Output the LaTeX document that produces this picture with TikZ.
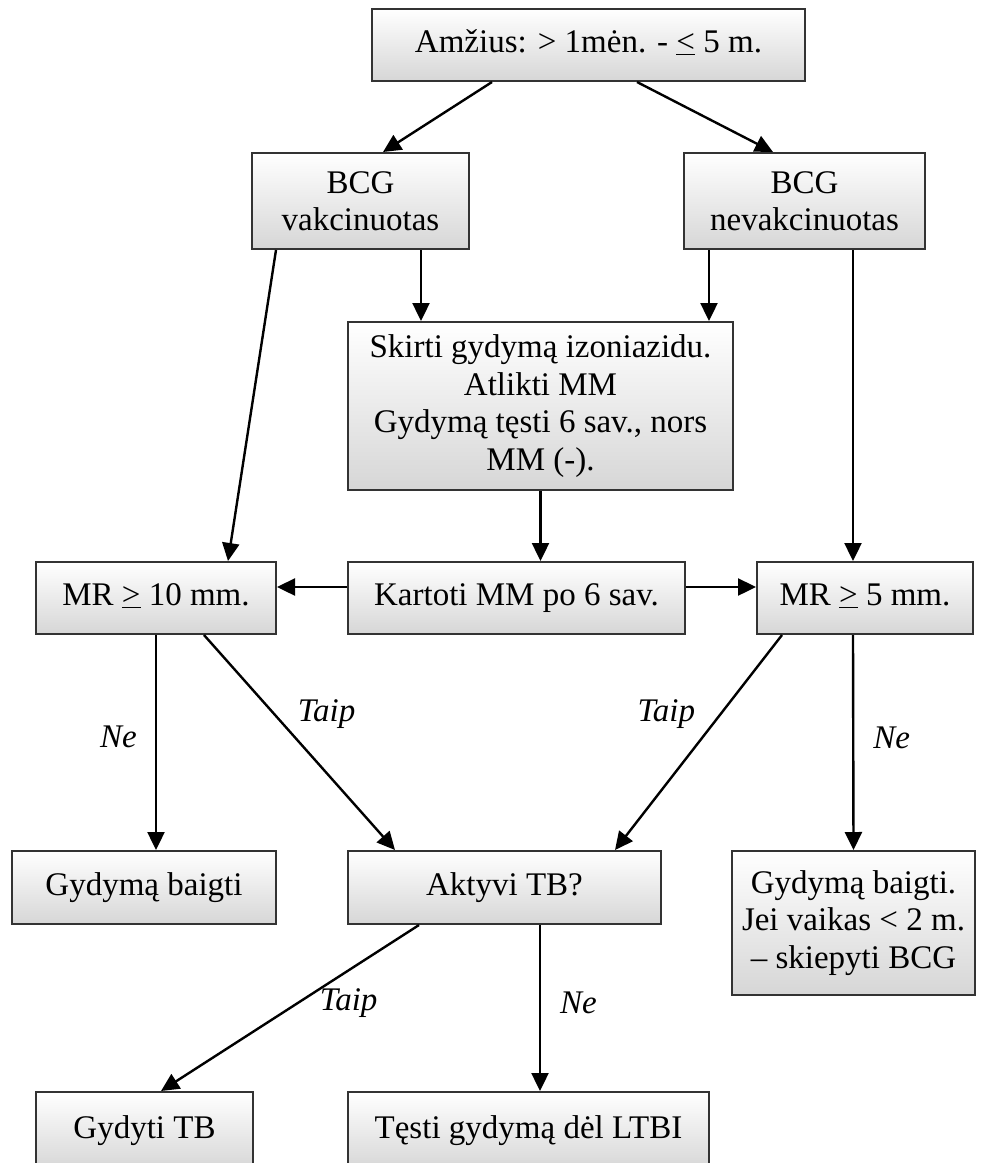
\documentclass[tikz,border=0pt]{standalone}
\usepackage{fontspec}
\setmainfont{Liberation Serif}
\usetikzlibrary{arrows.meta}

% relation signs drawn as an underlined angle bracket
\newcommand{\geqbar}{\underline{>}}
\newcommand{\leqbar}{\underline{<}}

\tikzset{
  box/.style={draw=black!80, line width=2pt, top color=white, bottom color=black!16,
    inner sep=0pt, align=center, font=\fontsize{33}{37.5}\selectfont},
  one/.style={text height=23pt, text depth=8pt},
  arr/.style={line width=2.4pt, -{Triangle[length=18pt,width=17pt]}},
  lab/.style={inner sep=0pt, font=\fontsize{33}{37.5}\selectfont\itshape}
}

\begin{document}
\begin{tikzpicture}[x=1pt, y=-1pt]
\useasboundingbox (0,0) rectangle (990,1163);

% boxes
\node[box, one, minimum width=433pt, minimum height=72pt] (top) at (588.5,45) {Amžius: > 1mėn. - \leqbar{} 5 m.};
\node[box, minimum width=217pt, minimum height=96pt] (vak) at (360.5,201) {BCG\\vakcinuotas};
\node[box, minimum width=241pt, minimum height=96pt] (nev) at (804.5,201) {BCG\\nevakcinuotas};
\node[box, minimum width=385pt, minimum height=168pt] (skirti) at (540.5,406)
  {Skirti gydymą izoniazidu.\\Atlikti MM\\Gydymą tęsti 6 sav., nors\\MM (-).};
\node[box, one, minimum width=240pt, minimum height=72pt] (mr10) at (156,598) {MR \geqbar{} 10 mm.};
\node[box, one, minimum width=337pt, minimum height=72pt] (kartoti) at (516.5,598) {Kartoti MM po 6 sav.};
\node[box, one, minimum width=216pt, minimum height=72pt] (mr5) at (865,598) {MR \geqbar{} 5 mm.};
\node[box, one, minimum width=264pt, minimum height=73pt] (baigti) at (144,887.5) {Gydymą baigti};
\node[box, one, minimum width=313pt, minimum height=73pt] (aktyvi) at (504.5,887.5) {Aktyvi TB?};
\node[box, minimum width=243pt, minimum height=144pt] (baigti2) at (853.5,923)
  {Gydymą baigti.\\Jei vaikas < 2 m.\\– skiepyti BCG};
\node[box, minimum width=217pt, minimum height=78pt, text depth=0pt] (gydyti) at (144.5,1131) {\raisebox{8pt}{Gydyti TB}};
\node[box, minimum width=361pt, minimum height=78pt, text depth=0pt] (testi) at (528.5,1131) {\raisebox{8pt}{Tęsti gydymą dėl LTBI}};

% connectors
\draw[arr] ([xshift=-96.5pt]top.south) -- ([xshift=22.5pt]vak.north);
\draw[arr] ([xshift=48.5pt]top.south) -- ([xshift=-31.5pt]nev.north);
\draw[arr] ([xshift=-84.5pt]vak.south) -- ([xshift=72pt]mr10.north);
\draw[arr] ([xshift=60.5pt]vak.south) -- ([xshift=-119.5pt]skirti.north);
\draw[arr] ([xshift=-95.5pt]nev.south) -- ([xshift=168.5pt]skirti.north);
\draw[arr] ([xshift=48.5pt]nev.south) -- ([xshift=-12pt]mr5.north);
\draw[arr] (skirti.south) -- ([xshift=24pt]kartoti.north);
\draw[arr] ([yshift=11pt]kartoti.west) -- ([yshift=11pt]mr10.east);
\draw[arr] ([yshift=11pt]kartoti.east) -- ([yshift=11pt]mr5.west);

\draw[arr] (mr10.south) -- ([xshift=12pt]baigti.north)
  node[lab, pos=0.475, anchor=east, xshift=-18pt] (l1) {Ne};
\draw[arr] ([xshift=48pt]mr10.south) -- ([xshift=-109.5pt]aktyvi.north)
  node[lab, pos=0.37, anchor=west, xshift=22pt] (l2) {Taip};
\draw[arr] ([xshift=-83pt]mr5.south) -- ([xshift=110.5pt]aktyvi.north)
  node[lab, pos=0.37, anchor=east, xshift=-24pt] (l3) {Taip};
\draw[arr] ([xshift=-12pt]mr5.south) -- (baigti2.north)
  node[lab, pos=0.48, anchor=west, xshift=19pt] (l4) {Ne};
\draw[arr] ([xshift=-85.5pt]aktyvi.south) -- ([xshift=16.5pt]gydyti.north)
  node[lab, pos=0.47, anchor=west, xshift=21pt] (l5) {Taip};
\draw[arr] ([xshift=35.5pt]aktyvi.south) -- ([xshift=11.5pt]testi.north)
  node[lab, pos=0.47, anchor=west, xshift=19pt] (l6) {Ne};
\end{tikzpicture}
\end{document}
